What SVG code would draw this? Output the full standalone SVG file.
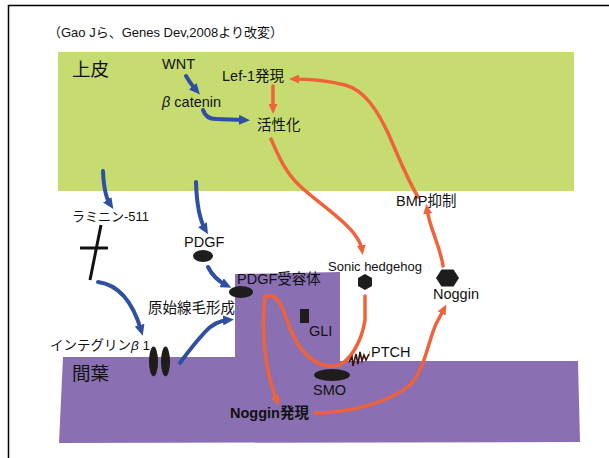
<svg xmlns="http://www.w3.org/2000/svg" width="609" height="458" viewBox="0 0 609 458">
<defs>
<style>
text{font-family:"Liberation Sans","Noto Sans CJK JP",sans-serif;fill:#111;}
.t{font-size:14.5px;}
.s{font-size:13px;}
.big{font-size:18.5px;}
.blue{fill:none;stroke:#2f4fa2;stroke-width:4;stroke-linecap:round;marker-end:url(#ab);}
.or{fill:none;stroke:#f0623a;stroke-width:3.5;stroke-linecap:round;}
.ora{marker-end:url(#ao);}
.blk{fill:#1f1c1c;}
</style>
<marker id="ab" markerUnits="userSpaceOnUse" markerWidth="11" markerHeight="10" refX="5" refY="5" orient="auto">
<path d="M0,0 L11,5 L0,10 z" fill="#2f4fa2"/>
</marker>
<marker id="ao" markerUnits="userSpaceOnUse" markerWidth="10" markerHeight="9" refX="5" refY="4.5" orient="auto">
<path d="M0,0 L10,4.5 L0,9 z" fill="#f0623a"/>
</marker>
</defs>
<rect width="609" height="458" fill="#fff"/>
<path d="M8.5,458 V5.5 H609" fill="none" stroke="#000" stroke-width="1.5"/>
<text x="48" y="37" style="font-size:13px">（Gao Jら、Genes Dev,2008より改変）</text>

<g id="epithelium">
<rect x="58" y="52" width="516" height="139" fill="#c6dc70"/>
<text class="big" x="72" y="76">上皮</text>
</g>
<g id="mesenchyme">
<polygon points="63,357 235,357 235,274 340,272 340,361 578,361 580,442 59,443" fill="#8a70b2"/>
<text class="big" x="72" y="380">間葉</text>
</g>

<g id="connectors">
<path class="blue" d="M186,76 Q190,83 196,90"/>
<path class="blue" d="M203,110 Q206,119 216,119 L244,120"/>
<path class="blue" d="M103,171 Q104,195 110,204"/>
<path class="blue" d="M196,182 Q197,215 205,229"/>
<path class="blue" d="M208,267 Q214,279 226,285"/>
<path class="blue" d="M98,282 Q128,286 141,330"/>
<path class="blue" d="M180,363 Q193,345 205,332 Q215,321 228,320"/>
<path d="M101,225 L90,280 M80,248 L108,248" stroke="#111" stroke-width="3" fill="none"/>
<path class="or ora" d="M273,86 L273,109"/>
<path class="or ora" d="M271,139 C278,155 285,172 300,186 C318,203 345,220 355,235 Q361,243 362,250"/>
<path class="or ora" d="M265,297 C261,325 264,370 277,401"/>
<path class="or" d="M265,297 C280,290 284,315 292,333 C302,355 318,368 335,366 C350,364 362,340 365,320 L365,296"/>
<path class="or ora" d="M315,413 C350,413 390,402 410,385 C425,370 428,340 437,322 L444,309"/>
<path class="or ora" d="M443,266 C440,245 430,230 427,209"/>
<path class="or ora" d="M418,197 C405,175 398,155 388,133 C378,112 365,90 345,85 C325,80 305,79 294,79"/>
</g>

<g id="wnt"><text class="t" x="162" y="69">WNT</text></g>
<g id="lef1"><text class="t" x="222" y="81">Lef-1発現</text></g>
<g id="bcatenin"><text class="t" x="162" y="107"><tspan font-style="italic">β</tspan> catenin</text></g>
<g id="activation"><text class="t" x="257" y="130">活性化</text></g>
<g id="laminin"><text class="s" x="72" y="221">ラミニン-511</text></g>
<g id="pdgf"><text class="t" x="184" y="247">PDGF</text><ellipse class="blk" cx="203" cy="256" rx="10" ry="6"/></g>
<g id="pdgfr"><text class="t" x="237" y="284">PDGF受容体</text><ellipse class="blk" cx="241" cy="292" rx="12" ry="6"/></g>
<g id="cilia"><text class="t" x="148" y="313">原始線毛形成</text></g>
<g id="integrin"><text x="50" y="350" style="font-size:13.5px">インテグリン<tspan font-style="italic">β</tspan> 1</text>
<ellipse class="blk" cx="153.5" cy="361.5" rx="4.5" ry="15"/><ellipse class="blk" cx="165.5" cy="361.5" rx="4.5" ry="15"/></g>
<g id="shh"><text class="s" x="328" y="271">Sonic hedgehog</text>
<polygon class="blk" points="365,274 372,278 372,286 365,290 358,286 358,278"/></g>
<g id="noggin"><polygon class="blk" points="436,278 441.5,269.5 453.5,269.5 459,278 453.5,286.5 441.5,286.5"/>
<text class="t" x="433" y="299">Noggin</text></g>
<g id="bmp"><text class="t" x="396" y="206">BMP抑制</text></g>
<g id="gli"><rect class="blk" x="300" y="309" width="9" height="14"/><text class="t" x="309" y="336">GLI</text></g>
<g id="ptch"><path d="M349,362 L352,357 L353,366 L356,354 L358,364 L360,352 L362,361 L364,355 L366,360 L369,354" fill="none" stroke="#3a1212" stroke-width="1.6"/>
<path d="M369.5,351 V356" stroke="#c08a50" stroke-width="0.8"/>
<text class="t" x="371" y="357">PTCH</text></g>
<g id="smo"><ellipse class="blk" cx="332" cy="375" rx="18" ry="6"/><text class="t" x="313" y="395">SMO</text></g>
<g id="nogginexp"><text class="t" x="230" y="418" font-weight="bold">Noggin発現</text></g>
</svg>
